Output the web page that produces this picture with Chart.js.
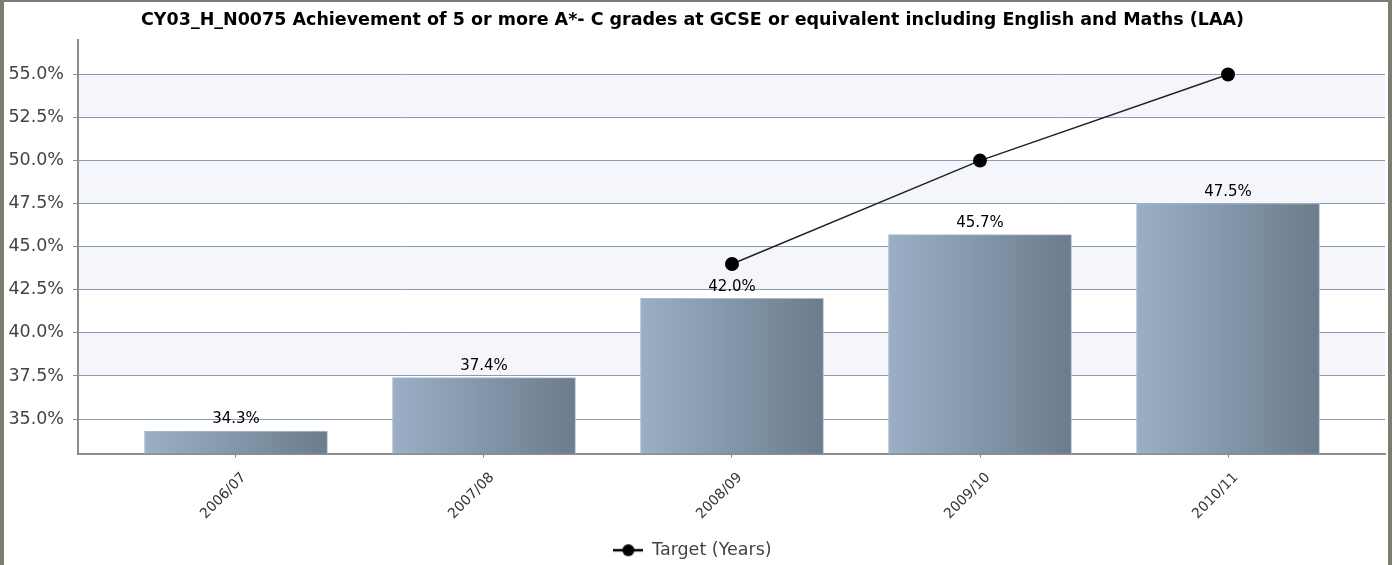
<!DOCTYPE html>
<html><head><meta charset="utf-8">
<script src="https://cdn.jsdelivr.net/npm/chart.js@4/dist/chart.umd.min.js"></script>
<style>
html,body{margin:0;padding:0;background:#fff;}
#wrap{position:relative;width:1392px;height:565px;}
canvas{display:block;}
</style></head>
<body><div id="wrap"><canvas id="c" width="1392" height="565"></canvas></div>
<script>
const titleText = 'CY03_H_N0075 Achievement of 5 or more A*- C grades at GCSE or equivalent including English and Maths (LAA)';
const categories = ['2006/07', '2007/08', '2008/09', '2009/10', '2010/11'];
const actualValues = [34.3, 37.4, 42.0, 45.7, 47.5];
const targetValues = [null, null, 44.0, 50.0, 55.0];
const yTicks = [35, 37.5, 40, 42.5, 45, 47.5, 50, 52.5, 55];
const targetLabel = 'Target (Years)';

const FONT = '"DejaVu Sans", Tahoma, Verdana, sans-serif';
const BAR_W = 183;

// legend symbol: line with dot
const sym = document.createElement('canvas');
sym.width = 30; sym.height = 14;
(function(){const g = sym.getContext('2d');
  g.strokeStyle = '#000'; g.lineWidth = 2.5;
  g.beginPath(); g.moveTo(0,7); g.lineTo(30,7); g.stroke();
  g.fillStyle = '#000'; g.beginPath(); g.arc(15,7,6,0,Math.PI*2); g.fill();})();

const bandsFirst = {
  id: 'bandsFirst',
  beforeDraw(chart) {
    const {ctx, chartArea: a, scales: {y}} = chart;
    ctx.save();
    ctx.fillStyle = '#f4f6fc';
    for (let k = 0; k + 1 < yTicks.length; k += 2) {
      const hiIdx = yTicks.length - 1 - k;
      const top = y.getPixelForValue(yTicks[hiIdx]);
      const bot = y.getPixelForValue(yTicks[hiIdx - 1]);
      ctx.fillRect(a.left + 1, top, a.right - a.left - 1, bot - top);
    }
    ctx.restore();
  }
};
const labelsPlugin = {
  id: 'barLabels',
  afterDatasetsDraw(chart) {
    const {ctx} = chart;
    const meta = chart.getDatasetMeta(1);
    ctx.save();
    ctx.font = '15px ' + FONT;
    ctx.fillStyle = '#000';
    ctx.textAlign = 'center';
    ctx.textBaseline = 'bottom';
    meta.data.forEach((el, i) => {
      ctx.fillText(actualValues[i].toFixed(1) + '%', el.x, el.y - 4);
    });
    ctx.restore();
  }
};
const framePlugin = {
  id: 'frame',
  afterDraw(chart) {
    const ctx = chart.ctx;
    ctx.save();
    ctx.fillStyle = '#7c7c70';
    ctx.fillRect(0, 0, 1392, 2);
    ctx.fillRect(0, 0, 4, 565);
    ctx.fillRect(1388, 0, 4, 565);
    ctx.restore();
  }
};

new Chart(document.getElementById('c'), {
  type: 'bar',
  data: {
    datasets: [
      {
        type: 'line',
        label: targetLabel,
        data: targetValues.map((v, i) => ({x: i, y: v})),
        borderColor: '#222',
        borderWidth: 1.5,
        pointRadius: 7,
        pointHoverRadius: 7,
        pointBackgroundColor: '#000',
        pointBorderColor: '#000',
        pointBorderWidth: 0,
        fill: false,
        spanGaps: false,
        order: 0
      },
      {
        type: 'bar',
        label: 'Actual',
        data: actualValues.map((v, i) => ({x: i, y: v})),
        barThickness: BAR_W,
        borderColor: '#aebacb',
        borderWidth: {top: 1, left: 1, right: 1, bottom: 0},
        borderSkipped: false,
        backgroundColor(c) {
          const chart = c.chart;
          const xs = chart.scales.x;
          if (!xs || c.type !== 'data') return '#8496aa';
          const cx = xs.getPixelForValue(c.dataIndex);
          if (!isFinite(cx)) return '#8496aa';
          const g = chart.ctx.createLinearGradient(cx - BAR_W/2, 0, cx + BAR_W/2, 0);
          g.addColorStop(0, '#9aafc6');
          g.addColorStop(1, '#6c7c8c');
          return g;
        },
        order: 1
      }
    ]
  },
  options: {
    responsive: false,
    animation: false,
    layout: {padding: {left: 0, right: 7, top: 0, bottom: -4}},
    plugins: {
      title: {
        display: true, text: titleText, color: '#000',
        font: {family: FONT, size: 17.5, weight: 'bold'},
        padding: {top: 10, bottom: 9}
      },
      legend: {
        position: 'bottom',
        labels: {
          color: '#444',
          padding: 2,
          font: {family: FONT, size: 17.5},
          usePointStyle: true,
          pointStyleWidth: 30,
          generateLabels(chart) {
            return [{text: targetLabel, pointStyle: sym, fillStyle: '#000', strokeStyle: '#000', lineWidth: 0, hidden: false, datasetIndex: 0, fontColor: '#444'}];
          }
        }
      },
      tooltip: {enabled: false}
    },
    scales: {
      x: {
        type: 'linear',
        offset: false,
        min: -0.637, max: 4.633,
        afterBuildTicks(s) { s.ticks = categories.map((_, i) => ({value: i})); },
        afterFit(s) { s.height = 86; },
        ticks: {
          callback: (v) => categories[v],
          minRotation: 45, maxRotation: 45,
          color: '#333', font: {family: FONT, size: 14},
          autoSkip: false, padding: 12, labelOffset: 8
        },
        grid: {display: true, offset: false, drawOnChartArea: false, tickLength: 4, color: '#888'},
        border: {color: '#8c8c8c', width: 2}
      },
      y: {
        min: 33, max: 57,
        afterBuildTicks(s) { s.ticks = yTicks.map(v => ({value: v})); },
        afterFit(s) { s.width = 78; },
        ticks: {
          callback: (v) => v.toFixed(1) + '%',
          color: '#444', font: {family: FONT, size: 17.5}, padding: 9
        },
        grid: {color: '#8a9bb1', lineWidth: 1, tickLength: 5, tickColor: '#8c8c8c'},
        border: {color: '#8c8c8c', width: 2}
      }
    }
  },
  plugins: [bandsFirst, labelsPlugin, framePlugin]
});
</script></body></html>
